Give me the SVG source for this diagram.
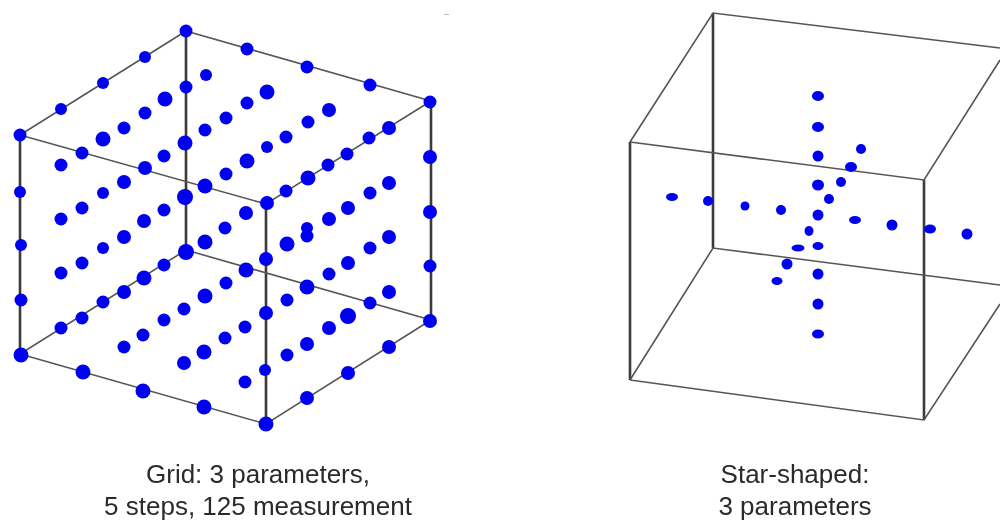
<svg xmlns="http://www.w3.org/2000/svg" width="1000" height="522" viewBox="0 0 1000 522">
<style>
.bg{fill:#fff}
.v{stroke:#3a3a3a;stroke-width:2.6;fill:none}
.e{stroke:#555;stroke-width:1.6;fill:none}
.d{fill:#0000f0}
text{font-family:"Liberation Sans",Arial,sans-serif;font-size:26px;fill:#2a2a2a;text-anchor:middle}
</style>
<defs><filter id="s" x="-5%" y="-5%" width="110%" height="110%"><feGaussianBlur stdDeviation="0.5"/></filter></defs>
<rect class="bg" width="1000" height="522"/>
<rect x="444" y="14" width="5" height="1" fill="#bbb"/>
<g id="grid-cube" filter="url(#s)">
<g id="grid-edges">
<path class="v" d="M20 135V354M186 31V250M431 101V320M266 204V424"/>
<path class="e" d="M186 31L20 135L266 204L431 101L186 31M186 250L20 354L266 424L431 320L186 250"/>
</g>
<g id="grid-points" class="d">
<circle cx="186" cy="31" r="6.5"/><circle cx="145" cy="57" r="6"/><circle cx="103" cy="83" r="6"/><circle cx="61" cy="109" r="6"/><circle cx="20" cy="135" r="6.5"/>
<circle cx="247" cy="49" r="6.5"/><circle cx="307" cy="67" r="6.5"/><circle cx="370" cy="85" r="6.5"/><circle cx="430" cy="102" r="6.5"/>
<circle cx="206" cy="75" r="6"/><circle cx="165" cy="99" r="7.5"/><circle cx="145" cy="113" r="6.5"/><circle cx="124" cy="128" r="6.5"/><circle cx="103" cy="139" r="7.5"/><circle cx="82" cy="153" r="6.5"/><circle cx="61" cy="165" r="6.5"/>
<circle cx="267" cy="92" r="7.5"/><circle cx="247" cy="103" r="6.5"/><circle cx="226" cy="118" r="6.5"/><circle cx="205" cy="130" r="6.5"/><circle cx="186" cy="87" r="6.5"/><circle cx="185" cy="143" r="7.5"/><circle cx="164" cy="156" r="6.5"/><circle cx="145" cy="168" r="7"/><circle cx="124" cy="182" r="7"/><circle cx="103" cy="193" r="6"/><circle cx="82" cy="208" r="6.5"/><circle cx="61" cy="219" r="6.5"/>
<circle cx="329" cy="110" r="7"/><circle cx="308" cy="122" r="6.5"/><circle cx="286" cy="137" r="6.5"/><circle cx="267" cy="147" r="6"/><circle cx="247" cy="161" r="7.5"/><circle cx="226" cy="174" r="6.5"/><circle cx="205" cy="186" r="7.5"/><circle cx="185" cy="197" r="8"/><circle cx="164" cy="210" r="6.5"/><circle cx="144" cy="221" r="7"/><circle cx="124" cy="237" r="7"/><circle cx="103" cy="248" r="6"/><circle cx="82" cy="263" r="6.5"/><circle cx="61" cy="273" r="6.5"/>
<circle cx="389" cy="128" r="7"/><circle cx="369" cy="138" r="6.5"/><circle cx="347" cy="154" r="6.5"/><circle cx="328" cy="165" r="6.5"/><circle cx="308" cy="178" r="7.5"/><circle cx="286" cy="191" r="6.5"/><circle cx="267" cy="203" r="7"/><circle cx="246" cy="213" r="7"/><circle cx="225" cy="228" r="6.5"/><circle cx="205" cy="242" r="7.5"/><circle cx="186" cy="252" r="8"/><circle cx="164" cy="265" r="6.5"/><circle cx="144" cy="278" r="7.5"/><circle cx="124" cy="292" r="7"/><circle cx="103" cy="302" r="6.5"/><circle cx="82" cy="318" r="6.5"/><circle cx="61" cy="328" r="6.5"/>
<circle cx="20" cy="192" r="6"/><circle cx="21" cy="245" r="6"/><circle cx="21" cy="300" r="6.5"/><circle cx="21" cy="355" r="7.5"/>
<circle cx="430" cy="157" r="7"/><circle cx="430" cy="212" r="7"/><circle cx="430" cy="266" r="6.5"/><circle cx="430" cy="321" r="7"/>
<circle cx="389" cy="183" r="7"/><circle cx="370" cy="193" r="6.5"/><circle cx="348" cy="208" r="7"/><circle cx="329" cy="219" r="7"/><circle cx="307" cy="228" r="6"/><circle cx="307" cy="236" r="6.5"/><circle cx="287" cy="244" r="7.5"/><circle cx="266" cy="259" r="7"/><circle cx="246" cy="270" r="7.5"/><circle cx="226" cy="283" r="6.5"/><circle cx="205" cy="296" r="7.5"/><circle cx="184" cy="309" r="6.5"/><circle cx="164" cy="320" r="6.5"/><circle cx="143" cy="335" r="6.5"/><circle cx="124" cy="347" r="6.5"/>
<circle cx="389" cy="237" r="7"/><circle cx="370" cy="248" r="6.5"/><circle cx="348" cy="263" r="7"/><circle cx="329" cy="274" r="6.5"/><circle cx="307" cy="287" r="7.5"/><circle cx="287" cy="300" r="6.5"/><circle cx="266" cy="313" r="7"/><circle cx="245" cy="327" r="6.5"/><circle cx="225" cy="338" r="6.5"/><circle cx="204" cy="352" r="7.5"/><circle cx="184" cy="363" r="7"/>
<circle cx="389" cy="292" r="7"/><circle cx="370" cy="303" r="6.5"/><circle cx="348" cy="316" r="8"/><circle cx="329" cy="328" r="7"/><circle cx="307" cy="344" r="7"/><circle cx="287" cy="355" r="6.5"/><circle cx="265" cy="370" r="6"/><circle cx="245" cy="382" r="6.5"/>
<circle cx="389" cy="347" r="7"/><circle cx="348" cy="373" r="7"/><circle cx="307" cy="398" r="7"/><circle cx="266" cy="424" r="7.5"/>
<circle cx="83" cy="372" r="7.5"/><circle cx="143" cy="391" r="7.5"/><circle cx="204" cy="407" r="7.5"/>
</g>
</g>
<g id="star-cube" filter="url(#s)">
<g id="star-edges">
<path class="v" d="M630 142V380M713 13V248M924 180V420"/>
<path class="e" d="M630 142L713 13L1000 48M630 142L924 180L1000 60M630 380L713 248L1000 285M630 380L924 420L1000 304"/>
</g>
<g id="star-points" class="d">
<ellipse cx="818" cy="96" rx="6" ry="5"/><ellipse cx="818" cy="127" rx="6" ry="5"/><circle cx="818" cy="156" r="5.5"/><ellipse cx="818" cy="185" rx="6" ry="5.5"/><circle cx="818" cy="215" r="5.5"/><ellipse cx="818" cy="246" rx="5.5" ry="4"/><circle cx="818" cy="274" r="5.5"/><circle cx="818" cy="304" r="5.5"/><ellipse cx="818" cy="334" rx="6" ry="4.5"/>
<ellipse cx="672" cy="197" rx="6" ry="4"/><circle cx="708" cy="201" r="5"/><circle cx="745" cy="206" r="4.5"/><circle cx="781" cy="210" r="5"/><ellipse cx="855" cy="220" rx="6" ry="4"/><circle cx="892" cy="225" r="5.5"/><ellipse cx="930" cy="229" rx="6" ry="4.5"/><circle cx="967" cy="234" r="5.5"/>
<circle cx="861" cy="149" r="5"/><ellipse cx="851" cy="167" rx="6" ry="5"/><circle cx="841" cy="182" r="5"/><circle cx="829" cy="199" r="5"/><ellipse cx="809" cy="231" rx="4.5" ry="5"/><ellipse cx="798" cy="248" rx="6.5" ry="3.5"/><circle cx="787" cy="264" r="5.5"/><ellipse cx="777" cy="281" rx="5.5" ry="4"/>
</g>
</g>
<g id="captions" filter="url(#s)">
<text x="258" y="483">Grid: 3 parameters,</text>
<text x="258" y="515">5 steps, 125 measurement</text>
<text x="795" y="483">Star-shaped:</text>
<text x="795" y="515">3 parameters</text>
</g>
</svg>
